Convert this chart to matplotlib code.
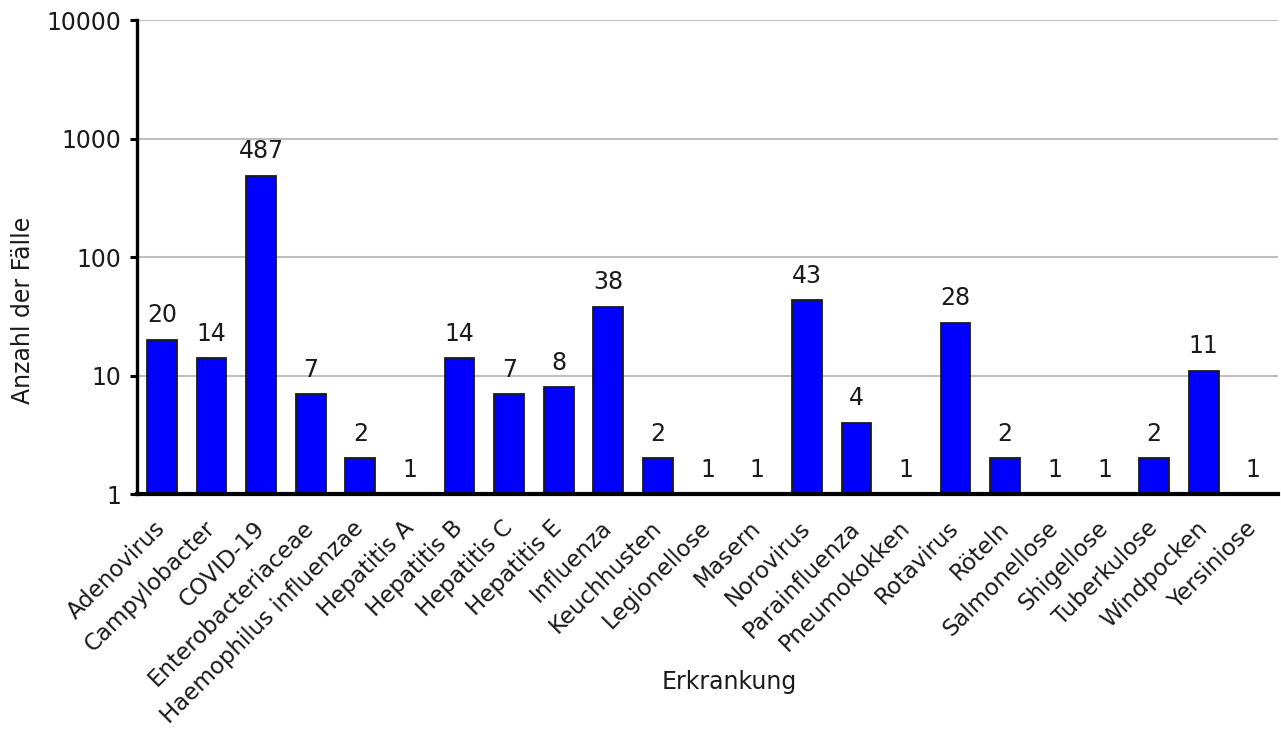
import matplotlib
matplotlib.use("Agg")
import matplotlib.pyplot as plt
from matplotlib.ticker import FixedLocator, NullLocator

categories = ["Adenovirus", "Campylobacter", "COVID-19", "Enterobacteriaceae",
              "Haemophilus influenzae", "Hepatitis A", "Hepatitis B", "Hepatitis C",
              "Hepatitis E", "Influenza", "Keuchhusten", "Legionellose", "Masern",
              "Norovirus", "Parainfluenza", "Pneumokokken", "Rotavirus", "Röteln",
              "Salmonellose", "Shigellose", "Tuberkulose", "Windpocken", "Yersiniose"]
values = [20, 14, 487, 7, 2, 1, 14, 7, 8, 38, 2, 1, 1, 43, 4, 1, 28, 2, 1, 1, 2, 11, 1]
yticks = [1, 10, 100, 1000, 10000]
ytick_labels = ["1", "10", "100", "1000", "10000"]

plt.rcParams['font.family'] = ['DejaVu Sans']
fig = plt.figure(figsize=(12.81, 7.33), dpi=100)
ax = fig.add_axes([0.107, 0.326, 0.8907, 0.6467])

x = list(range(len(categories)))
ax.set_yscale('log')
ax.bar(x, values, width=0.6, color='#0000FF', edgecolor='#1a1a1a', linewidth=1.3, zorder=3)
ax.set_ylim(1, 10000)
ax.set_xlim(-0.5, len(categories) - 0.5)

ax.yaxis.set_major_locator(FixedLocator(yticks))
ax.yaxis.set_minor_locator(NullLocator())
ax.set_yticklabels(ytick_labels)
ax.grid(axis='y', color='#bfbfbf', linewidth=1.5, zorder=0)
ax.set_axisbelow(True)

for xi, v in zip(x, values):
    ax.annotate(str(v), (xi, v), xytext=(0, 12.5), textcoords='offset points',
                ha='center', va='baseline', fontsize=17, color='#1a1a1a', zorder=4)

ax.set_xticks(x)
ax.set_xticklabels(categories, rotation=45, ha='right', va='center',
                   rotation_mode='anchor', fontsize=16.5, color='#1a1a1a')
ax.tick_params(axis='x', length=0, pad=22)
ax.tick_params(axis='y', direction='out', length=5, width=2.2, labelsize=17,
               labelcolor='#1a1a1a', pad=6)

for s in ['top', 'right']:
    ax.spines[s].set_visible(False)
ax.spines['left'].set_linewidth(2.4)
ax.spines['bottom'].set_linewidth(3)
ax.spines['left'].set_zorder(5)
ax.spines['bottom'].set_zorder(5)

xl = ax.set_xlabel("Erkrankung", fontsize=17, color='#1a1a1a')
xl.set_va('baseline')
ax.xaxis.set_label_coords(0.519, -0.411)
yl = ax.set_ylabel("Anzahl der Fälle", fontsize=17, color='#1a1a1a')
yl.set_va('center')
ax.yaxis.set_label_coords(-0.1, 0.388)

fig.savefig("out.png", dpi=100)
